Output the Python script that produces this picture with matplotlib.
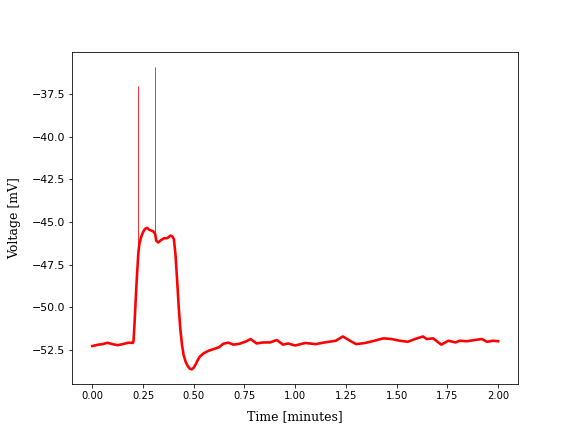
import numpy as np
import matplotlib
matplotlib.use('Agg')
import matplotlib.pyplot as plt

# Trace sampled from the recording (minutes, mV)
tiempo = [0.0, 0.03, 0.05, 0.075, 0.1, 0.125, 0.15, 0.175, 0.195, 0.2,
          0.203, 0.208, 0.213, 0.218, 0.222, 0.227, 0.232, 0.24, 0.25, 0.26,
          0.27, 0.28, 0.29, 0.30, 0.31, 0.315, 0.325, 0.34, 0.355, 0.37,
          0.385, 0.395, 0.402, 0.41, 0.418, 0.426, 0.434, 0.442, 0.45, 0.46,
          0.47, 0.48, 0.49, 0.50, 0.51, 0.52, 0.53, 0.55, 0.575, 0.6,
          0.625, 0.645, 0.67, 0.695, 0.725, 0.76, 0.78, 0.81, 0.84, 0.875,
          0.91, 0.94, 0.965, 1.0, 1.05, 1.1, 1.145, 1.2, 1.235, 1.27,
          1.3, 1.345, 1.39, 1.435, 1.475, 1.515, 1.555, 1.59, 1.63, 1.648,
          1.68, 1.72, 1.755, 1.79, 1.81, 1.845, 1.895, 1.92, 1.945, 1.975, 2.0]
voltaje = [-52.28, -52.2, -52.17, -52.09, -52.17, -52.23, -52.17, -52.09, -52.09, -52.1,
           -52.0, -51.0, -49.8, -48.6, -47.8, -46.8, -46.3, -45.9, -45.6, -45.4,
           -45.35, -45.45, -45.5, -45.55, -45.7, -46.1, -46.2, -46.05, -45.95, -45.95,
           -45.8, -45.85, -46.0, -46.9, -48.4, -50.0, -51.3, -52.2, -52.8, -53.2,
           -53.45, -53.6, -53.65, -53.55, -53.35, -53.1, -52.9, -52.7, -52.55, -52.45,
           -52.35, -52.15, -52.08, -52.2, -52.15, -52.0, -51.87, -52.13, -52.07, -52.07,
           -51.93, -52.2, -52.13, -52.25, -52.1, -52.17, -52.07, -51.97, -51.72, -51.97,
           -52.17, -52.1, -51.97, -51.83, -51.87, -51.97, -52.03, -51.87, -51.72, -51.87,
           -51.83, -52.2, -51.97, -52.07, -51.97, -52.0, -51.91, -51.87, -52.03, -51.97, -52.0]

# Action potentials
t_picos = [0.227, 0.311]
base_picos = [-46.8, -45.7]
v_picos = [-37.0, -35.9]

fig, ax = plt.subplots(figsize=(8, 6), dpi=72)
ax.plot(tiempo, voltaje, color='red', linewidth=2.6)
ax.vlines(t_picos, base_picos, v_picos, color='red', linewidth=0.8)

ax.set_xlabel('Time [minutes]', family='DejaVu Serif', fontsize=12.5, labelpad=9)
ax.set_ylabel('Voltage [mV]', family='DejaVu Serif', fontsize=12.5, labelpad=10)
ax.set_xticks(np.arange(0, 2.01, 0.25))
ax.tick_params(axis='y', labelsize=11)

plt.savefig('out.png', dpi=72)
